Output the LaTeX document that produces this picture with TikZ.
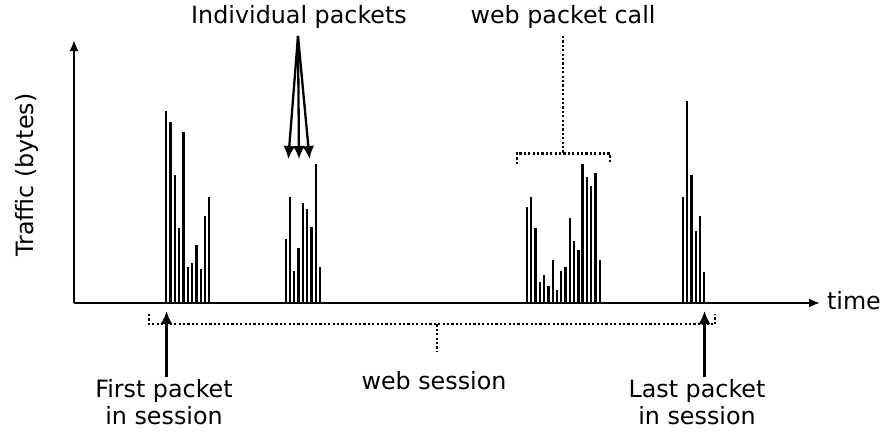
\documentclass[tikz,border=0pt]{standalone}
\usepackage{fontspec}
\setsansfont{DejaVu Sans}
\usetikzlibrary{arrows.meta,positioning}
\begin{document}
\begin{tikzpicture}[x=1pt, y=-1pt, >={Latex[length=11pt,width=9pt]}, line width=2.1pt,
	lbl/.style={font=\sffamily\fontsize{23.8}{27.5}\selectfont, inner sep=0, align=center},
	bar/.style={line width=2.3pt},
	gap/.style={line width=2.2pt, dash pattern=on 2.2pt off 2.2pt},
	big/.style={line width=2.3pt, >={Latex[length=13pt,width=12pt]}}]
	\useasboundingbox (0,0) rectangle (880,434);
	\coordinate (origin) at (74,303);
	\coordinate (ytop) at (74,40);
	\coordinate (xend) at (820,303);
	\draw[->] (origin) -- (ytop);
	\draw[->] (origin) -- (xend);
	\node[lbl, anchor=west] (time) at (826,301) {time};
	\node[lbl, rotate=90] (traffic) at (27,175) {Traffic (bytes)};
	\foreach \h [count=\i from 0] in {192,181,128,75,171,36,40,58,34,87,106}
		\draw[bar] (166.3+\i*4.3,303) -- ++(0,-\h);
	\foreach \h [count=\i from 0] in {64,106,32,55,100,94,76,139,36}
		\draw[bar] (285.7+\i*4.3,303) -- ++(0,-\h);
	\foreach \h [count=\i from 0] in {96,106,75,21,28,17,43,13,32,36,85,62,53,139,126,117,130,43}
		\draw[bar] (527+\i*4.28,303) -- ++(0,-\h);
	\foreach \h [count=\i from 0] in {106,202,128,72,87,31}
		\draw[bar] (682.7+\i*4.32,303) -- ++(0,-\h);
	\node[lbl] (indiv) at (299,17) {Individual packets};
	\coordinate (apex) at (298,36);
	\coordinate (p1) at (288.3,159);
	\coordinate (p2) at (299,159);
	\coordinate (p3) at (309.5,159);
	\draw[big,->] (apex) -- (p1);
	\draw[big,->] (apex) -- (p2);
	\draw[big,->] (apex) -- (p3);
	\node[lbl] (call) at (563,17) {web packet call};
	\coordinate (calltop) at (563.3,36);
	\coordinate (callmid) at (563.3,153.5);
	\draw[gap] (calltop) -- (callmid);
	\draw[gap] (516.7,164) -- (516.7,153.5) -- (610,153.5) -- (610,164);
	\coordinate (sessmid) at (437.3,324.3);
	\coordinate (sessbot) at (437.3,352);
	\draw[gap] (149.3,314) -- (149.3,324.3) -- (715,324.3) -- (715,314);
	\draw[gap] (sessmid) -- (sessbot);
	\node[lbl] (session) at (434,381) {web session};
	\node[lbl, anchor=north] (first) at (164,378) {First packet\\in session};
	\node[lbl, anchor=north] (last) at (697,378) {Last packet\\in session};
	\coordinate (firsttip) at (166.5,311);
	\coordinate (lasttip) at (704.5,311);
	\draw[big,->] (166.5,377) -- (firsttip);
	\draw[big,->] (704.5,377) -- (lasttip);
\end{tikzpicture}
\end{document}
